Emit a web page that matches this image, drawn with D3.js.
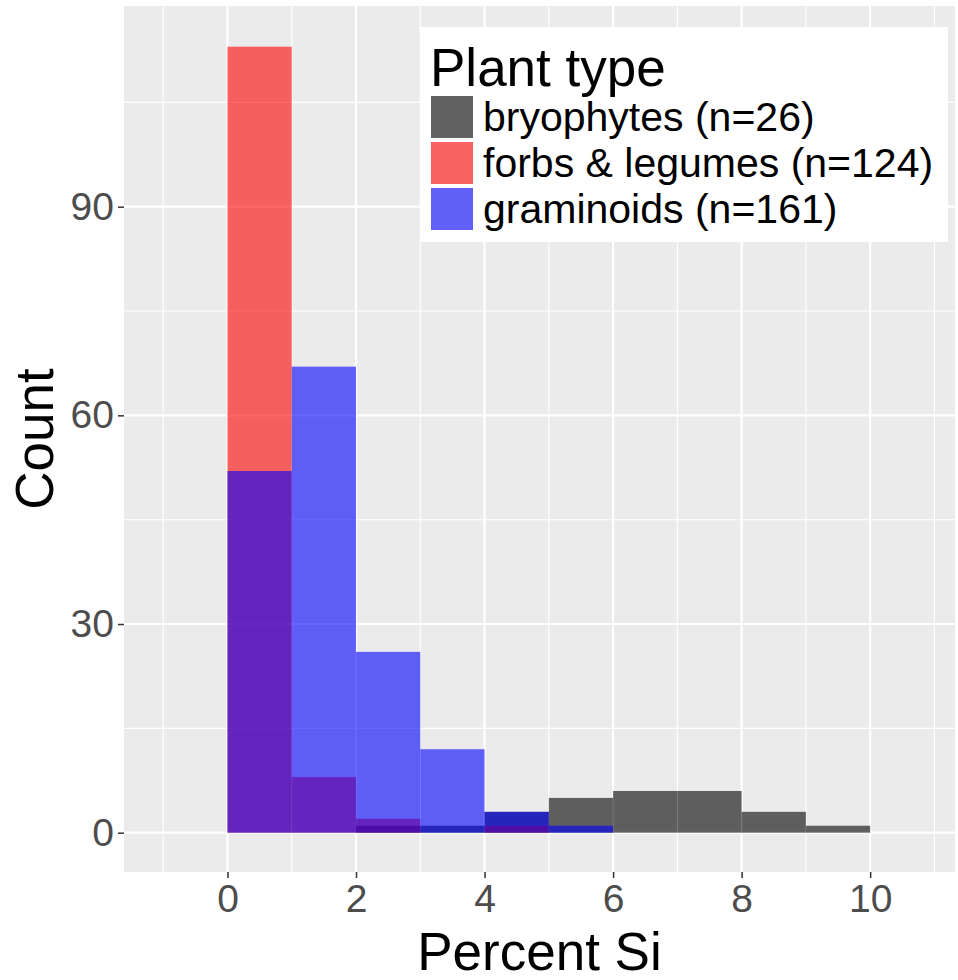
<!DOCTYPE html>
<html>
<head>
<meta charset="utf-8">
<script src="https://cdn.jsdelivr.net/npm/d3@7"></script>
<style>
  body { margin: 0; background: #fff; }
  svg { font-family: "Liberation Sans", Arial, sans-serif; }
</style>
</head>
<body>
<div id="chart"></div>
<script>
// histogram bins (binwidth 1), counts per plant type
const binStarts = [0, 1, 2, 3, 4, 5, 6, 7, 8, 9];
const bryophytes = [0, 0, 1, 1, 3, 5, 6, 6, 3, 1];
const forbs = [113, 8, 2, 0, 1, 0, 0, 0, 0, 0];
const graminoids = [52, 67, 26, 12, 3, 1, 0, 0, 0, 0];

const groupNames = ["bryophytes (n=26)", "forbs & legumes (n=124)", "graminoids (n=161)"];
const groupColors = ["black", "red", "blue"];
const xMajor = [0, 2, 4, 6, 8, 10];
const xMinor = [-1, 1, 3, 5, 7, 9, 11];
const yMajor = [0, 30, 60, 90];
const yMinor = [15, 45, 75, 105];

const width = 958, height = 980;
const panel = { left: 124, right: 955, top: 6, bottom: 872 };

const svg = d3.select("#chart").append("svg")
    .attr("width", width)
    .attr("height", height);

const x = d3.scaleLinear()
    .domain([-1.61, 11.32])
    .range([panel.left, panel.right]);

const y = d3.scaleLinear()
    .domain([-5.65, 118.85])
    .range([panel.bottom, panel.top]);

// Panel background + grid
svg.append("rect")
    .attr("x", panel.left)
    .attr("y", panel.top)
    .attr("width", panel.right - panel.left)
    .attr("height", panel.bottom - panel.top)
    .attr("fill", "#EBEBEB");

xMinor.forEach(v => {
    svg.append("line")
        .attr("x1", x(v)).attr("x2", x(v))
        .attr("y1", panel.top).attr("y2", panel.bottom)
        .attr("stroke", "#fff").attr("stroke-width", 1.1);
});
yMinor.forEach(v => {
    svg.append("line")
        .attr("x1", panel.left).attr("x2", panel.right)
        .attr("y1", y(v)).attr("y2", y(v))
        .attr("stroke", "#fff").attr("stroke-width", 1.1);
});
xMajor.forEach(v => {
    svg.append("line")
        .attr("x1", x(v)).attr("x2", x(v))
        .attr("y1", panel.top).attr("y2", panel.bottom)
        .attr("stroke", "#fff").attr("stroke-width", 2.2);
});
yMajor.forEach(v => {
    svg.append("line")
        .attr("x1", panel.left).attr("x2", panel.right)
        .attr("y1", y(v)).attr("y2", y(v))
        .attr("stroke", "#fff").attr("stroke-width", 2.2);
});

// Bars (identity position, drawn in level order)
[bryophytes, forbs, graminoids].forEach((counts, i) => {
    svg.append("g")
        .selectAll("rect")
        .data(binStarts.map((b, j) => ({ x0: b, x1: b + 1, n: counts[j] })).filter(d => d.n > 0))
        .enter()
        .append("rect")
        .attr("x", d => x(d.x0))
        .attr("width", d => x(d.x1) - x(d.x0))
        .attr("y", d => y(d.n))
        .attr("height", d => y(0) - y(d.n))
        .attr("fill", groupColors[i])
        .attr("fill-opacity", 0.6);
});

// Axes
const xAxis = svg.append("g")
    .attr("transform", `translate(0,${panel.bottom})`)
    .call(d3.axisBottom(x).tickValues(xMajor).tickSize(6).tickPadding(6));
const yAxis = svg.append("g")
    .attr("transform", `translate(${panel.left},0)`)
    .call(d3.axisLeft(y).tickValues(yMajor).tickSize(6).tickPadding(4));

[xAxis, yAxis].forEach(ax => {
    ax.select(".domain").remove();
    ax.selectAll(".tick line").attr("stroke", "#333").attr("stroke-width", 1.5);
    ax.selectAll("text")
        .attr("fill", "#4D4D4D")
        .attr("font-size", "39px")
        .attr("font-family", "Liberation Sans, Arial, sans-serif");
});

// Axis titles
svg.append("text")
    .attr("x", (panel.left + panel.right) / 2)
    .attr("y", 970)
    .attr("text-anchor", "middle")
    .attr("font-size", "53px")
    .attr("fill", "#000")
    .text("Percent Si");

svg.append("text")
    .attr("transform", "rotate(-90)")
    .attr("x", -(panel.top + panel.bottom) / 2)
    .attr("y", 53)
    .attr("text-anchor", "middle")
    .attr("font-size", "53px")
    .attr("fill", "#000")
    .text("Count");

// Legend
const legend = svg.append("g");
legend.append("rect")
    .attr("x", 420).attr("y", 27)
    .attr("width", 528).attr("height", 215)
    .attr("fill", "#fff");

legend.append("text")
    .attr("x", 430)
    .attr("y", 86)
    .attr("font-size", "53px")
    .attr("fill", "#000")
    .text("Plant type");

groupNames.forEach((name, i) => {
    const cy = 117 + i * 46;
    legend.append("rect")
        .attr("x", 431).attr("y", cy - 21)
        .attr("width", 42).attr("height", 42)
        .attr("fill", "#F2F2F2");
    legend.append("rect")
        .attr("x", 431).attr("y", cy - 21)
        .attr("width", 42).attr("height", 42)
        .attr("fill", groupColors[i])
        .attr("fill-opacity", 0.6);
    legend.append("text")
        .attr("x", 483)
        .attr("y", cy)
        .attr("dy", "0.35em")
        .attr("font-size", "41px")
        .attr("fill", "#000")
        .text(name);
});
</script>
</body>
</html>
